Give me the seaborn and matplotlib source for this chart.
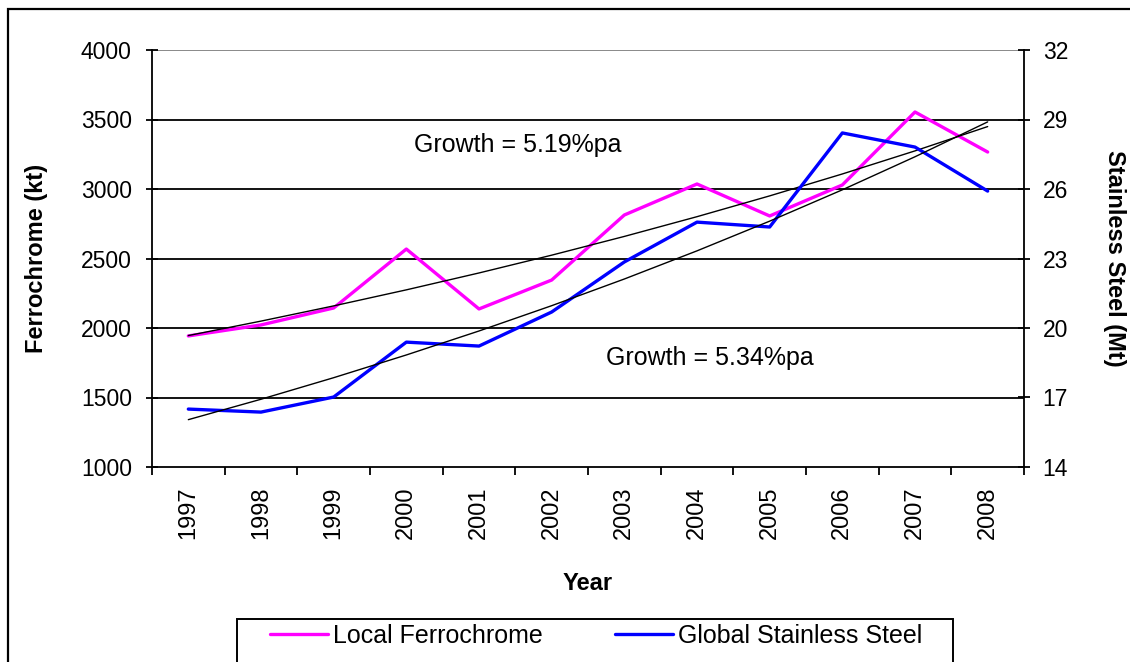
import matplotlib.pyplot as plt
import numpy as np
import pandas as pd
import seaborn as sns
from matplotlib.patches import Rectangle

years = ["1997", "1998", "1999", "2000", "2001", "2002",
         "2003", "2004", "2005", "2006", "2007", "2008"]
ferrochrome_kt = [1943, 2022, 2144, 2568, 2137, 2345,
                  2813, 3036, 2806, 3029, 3554, 3266]
stainless_mt = [16.50, 16.37, 17.02, 19.39, 19.22, 20.69,
                22.85, 24.57, 24.36, 28.42, 27.81, 25.91]
growth_labels = ["Growth = 5.19%pa", "Growth = 5.34%pa"]

PINK = "#FF00FF"
BLUE = "#0000FF"


def exp_trend(values):
    """
    exponential trendline (least squares on log), like excel
    """
    x = np.arange(len(values))
    b, a = np.polyfit(x, np.log(values), 1)
    return np.exp(a + b * x)


def plot_chart():
    sns.set_style("white")
    plt.rcParams["font.family"] = ["Liberation Sans", "DejaVu Sans"]
    for k in ["text.color", "axes.labelcolor", "xtick.color", "ytick.color"]:
        plt.rcParams[k] = "black"

    df = pd.DataFrame({
        "pos": np.arange(len(years)),
        "year": years,
        "ferro": ferrochrome_kt,
        "steel": stainless_mt,
    })
    df["ferro_trend"] = exp_trend(df["ferro"].values)
    df["steel_trend"] = exp_trend(df["steel"].values)

    fig = plt.figure(figsize=(11.3, 6.62), dpi=100)
    ax = fig.add_axes([152 / 1130, 1 - 467 / 662, (1024 - 152) / 1130, (467 - 50) / 662])
    ax2 = ax.twinx()

    # gridlines
    for v in range(1500, 4000, 500):
        ax.axhline(v, color="black", lw=1.3, zorder=0)
    ax.axhline(4000, color="#808080", lw=1.3, zorder=0)

    sns.lineplot(data=df, x="pos", y="ferro", ax=ax, color=PINK, lw=2.4,
                 label="Local Ferrochrome", legend=False, zorder=3)
    sns.lineplot(data=df, x="pos", y="ferro_trend", ax=ax, color="black",
                 lw=1.0, legend=False, zorder=4)
    sns.lineplot(data=df, x="pos", y="steel", ax=ax2, color=BLUE, lw=2.4,
                 label="Global Stainless Steel", legend=False, zorder=3)
    sns.lineplot(data=df, x="pos", y="steel_trend", ax=ax2, color="black",
                 lw=1.0, legend=False, zorder=4)

    ax.set_xlim(-0.5, len(years) - 0.5)
    ax.set_ylim(1000, 4000)
    ax2.set_ylim(14, 32)
    ax.set_yticks(range(1000, 4001, 500))
    ax2.set_yticks(range(14, 33, 3))

    ax.set_xticks(df["pos"])
    ax.set_xticklabels(years, rotation=90, fontsize=17)
    ax.set_xticks(np.arange(-0.5, len(years)), minor=True)
    ax.tick_params(axis="x", which="major", length=0, pad=14)
    ax.tick_params(axis="x", which="minor", length=6, width=1.3,
                   direction="out", color="black", bottom=True)
    ax.tick_params(axis="y", length=9, width=1.3, direction="inout",
                   labelsize=16.5, pad=10, left=True, color="black")
    ax2.tick_params(axis="y", length=9, width=1.3, direction="inout",
                    labelsize=16.5, pad=9, right=True, color="black")

    for a in (ax, ax2):
        for s in a.spines.values():
            s.set_visible(False)
        a.set_facecolor("none")
    ax.spines["left"].set_visible(True)
    ax.spines["bottom"].set_visible(True)
    ax2.spines["right"].set_visible(True)
    for s in (ax.spines["left"], ax.spines["bottom"], ax2.spines["right"]):
        s.set_color("black")
        s.set_linewidth(1.3)

    ax.set_xlabel("Year", fontsize=17, fontweight="bold", labelpad=24)
    ax.set_ylabel("Ferrochrome (kt)", fontsize=17, fontweight="bold", labelpad=24)
    ax2.set_ylabel("Stainless Steel (Mt)", fontsize=17, fontweight="bold",
                   rotation=270, labelpad=42)

    ax.text(3.10, 3317, growth_labels[0], fontsize=18, va="center", ha="left")
    ax.text(5.75, 1784, growth_labels[1], fontsize=18, va="center", ha="left")

    h1 = [l for l in ax.get_lines() if l.get_label() == "Local Ferrochrome"]
    h2 = [l for l in ax2.get_lines() if l.get_label() == "Global Stainless Steel"]
    fig.legend(h1 + h2, ["Local Ferrochrome", "Global Stainless Steel"],
               loc="upper center", bbox_to_anchor=(596 / 1130, 1 - 624 / 662),
               ncol=2, fontsize=18, frameon=False,
               handlelength=2.3, handletextpad=0.2, columnspacing=2.9,
               borderpad=0.0, borderaxespad=0.0)

    # legend box
    fig.patches.append(Rectangle((237 / 1130, -0.1), (953 - 237) / 1130, 0.1 + 1 - 619 / 662,
                                 transform=fig.transFigure, fill=False,
                                 edgecolor="black", lw=1.4))
    # outer chart border
    fig.patches.append(Rectangle((8 / 1130, -0.1), 1.2, 1.1 - 9 / 662,
                                 transform=fig.transFigure, fill=False,
                                 edgecolor="black", lw=1.6))

    fig.savefig("out.png", dpi=100)


if __name__ == "__main__":
    plot_chart()
